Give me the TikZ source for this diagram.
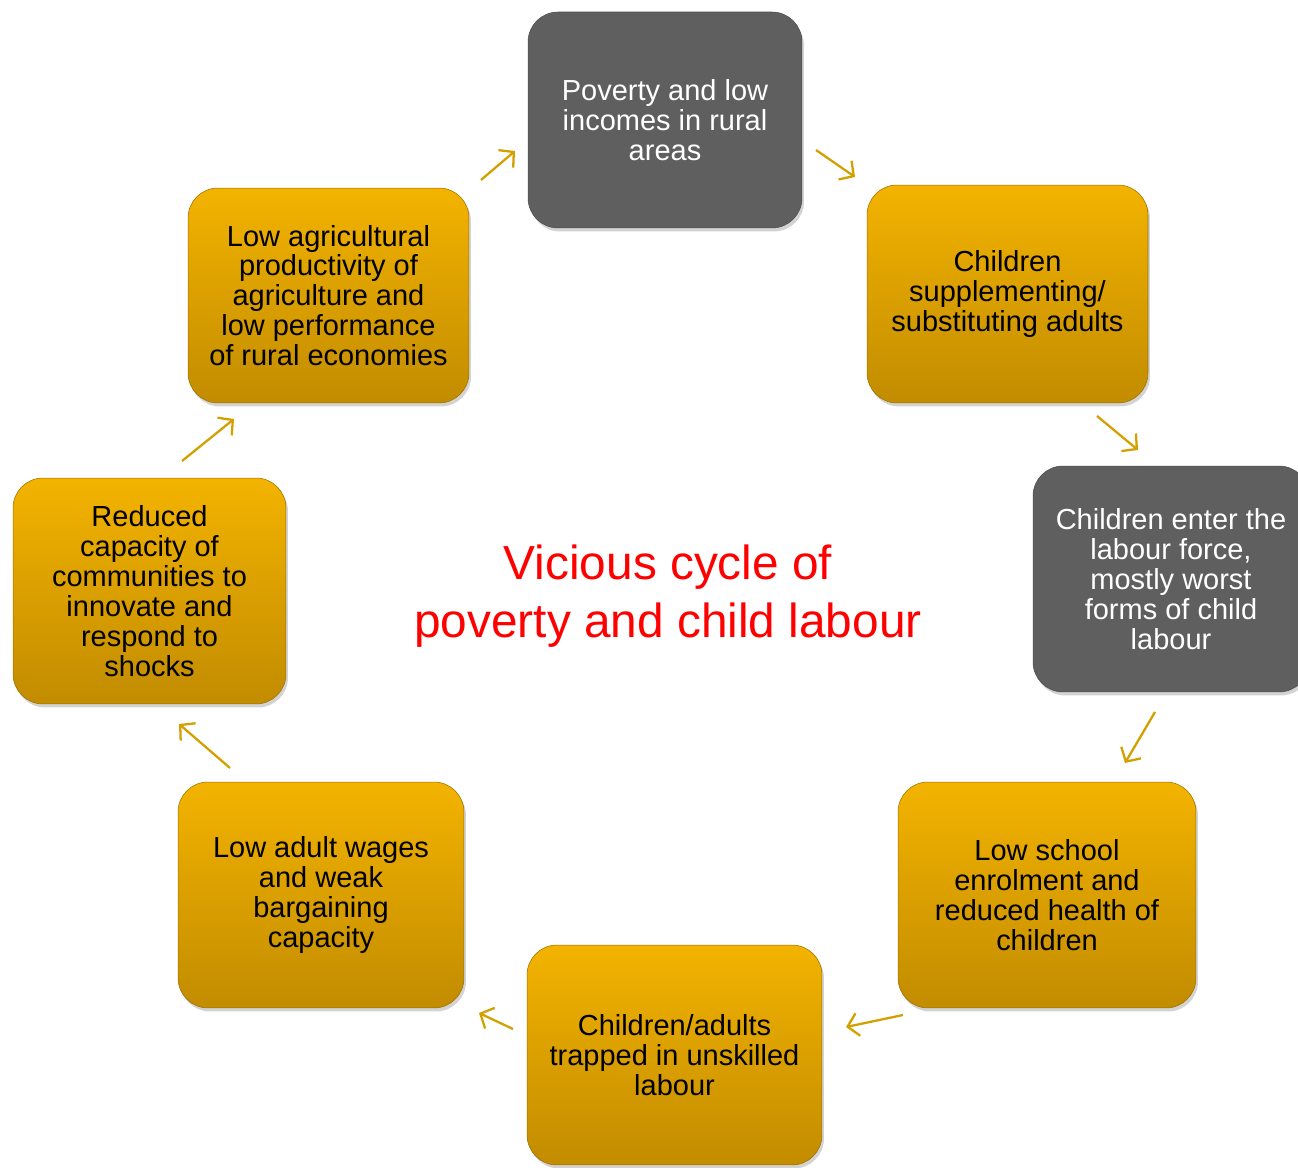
\documentclass[tikz,border=0pt]{standalone}
\usepackage{fontspec}
\setmainfont{Liberation Sans}
\usetikzlibrary{arrows.meta,shadows}
\definecolor{boxtop}{HTML}{F3B300}
\definecolor{boxbottom}{HTML}{C28C00}
\definecolor{boxgray}{HTML}{5F5F5F}
\definecolor{arrowgold}{HTML}{D4A000}
\tikzset{
  cyclebox/.style={rounded corners=0.6cm, align=center, inner sep=2pt,
    font=\fontsize{16.5}{17}\selectfont,
    drop shadow={opacity=0.35, shadow xshift=0.04cm, shadow yshift=-0.07cm}},
  goldbox/.style={cyclebox, top color=boxtop, bottom color=boxbottom, draw=boxbottom!80!black, line width=0.3pt},
  graybox/.style={cyclebox, fill=boxgray, draw=boxgray!80!black, line width=0.3pt, text=white},
  cyclearrow/.style={draw=arrowgold, line width=1.3pt, -{Straight Barb[length=6pt,width=13pt]}}
}

\begin{document}
\begin{tikzpicture}[x=0.02cm,y=-0.02cm]
  \useasboundingbox (0,0) rectangle (1298,1168);
  \clip (0,0) rectangle (1298,1168);
  \node[graybox, minimum width=5.48cm, minimum height=4.32cm] (poverty) at (665,120)
    {Poverty and low\\incomes in rural\\areas};
  \node[goldbox, minimum width=5.62cm, minimum height=4.36cm] (supplement) at (1007.5,294)
    {Children\\supplementing/\\substituting adults};
  \node[graybox, minimum width=5.52cm, minimum height=4.52cm] (enter) at (1171,579)
    {Children enter the\\labour force,\\mostly worst\\forms of child\\labour};
  \node[goldbox, minimum width=5.96cm, minimum height=4.52cm] (school) at (1047,895)
    {Low school\\enrolment and\\reduced health of\\children};
  \node[goldbox, minimum width=5.9cm, minimum height=4.4cm] (trapped) at (674.5,1055)
    {Children/adults\\trapped in unskilled\\labour};
  \node[goldbox, minimum width=5.72cm, minimum height=4.52cm] (wages) at (321,895)
    {Low adult wages\\and weak\\bargaining\\capacity};
  \node[goldbox, minimum width=5.46cm, minimum height=4.52cm] (capacity) at (149.5,591)
    {Reduced\\capacity of\\communities to\\innovate and\\respond to\\shocks};
  \node[goldbox, minimum width=5.62cm, minimum height=4.3cm] (agri) at (328.5,295.5)
    {Low agricultural\\productivity of\\agriculture and\\low performance\\of rural economies};

  \node[text=red, align=center, font=\fontsize{27.2}{33}\selectfont] (title) at (668,596)
    {Vicious cycle of\\poverty and child labour};

  % arrows between the boxes
  \coordinate (agri-out) at (481,180);      \coordinate (poverty-in) at (515,151);
  \coordinate (poverty-out) at (816,150);   \coordinate (supplement-in) at (855,177);
  \coordinate (supplement-out) at (1097,416); \coordinate (enter-in) at (1138,450);
  \coordinate (enter-out) at (1155,712);    \coordinate (school-in) at (1125,763);
  \coordinate (school-out) at (903,1015);   \coordinate (trapped-in) at (846,1027);
  \coordinate (trapped-out) at (513,1029);  \coordinate (wages-in) at (479,1013);
  \coordinate (wages-out) at (230,768);     \coordinate (capacity-in) at (179,724);
  \coordinate (capacity-out) at (182,461);  \coordinate (agri-in) at (234,419);
  \draw[cyclearrow] (agri-out) -- (poverty-in);
  \draw[cyclearrow] (poverty-out) -- (supplement-in);
  \draw[cyclearrow] (supplement-out) -- (enter-in);
  \draw[cyclearrow] (enter-out) -- (school-in);
  \draw[cyclearrow] (school-out) -- (trapped-in);
  \draw[cyclearrow] (trapped-out) -- (wages-in);
  \draw[cyclearrow] (wages-out) -- (capacity-in);
  \draw[cyclearrow] (capacity-out) -- (agri-in);
\end{tikzpicture}
\end{document}
